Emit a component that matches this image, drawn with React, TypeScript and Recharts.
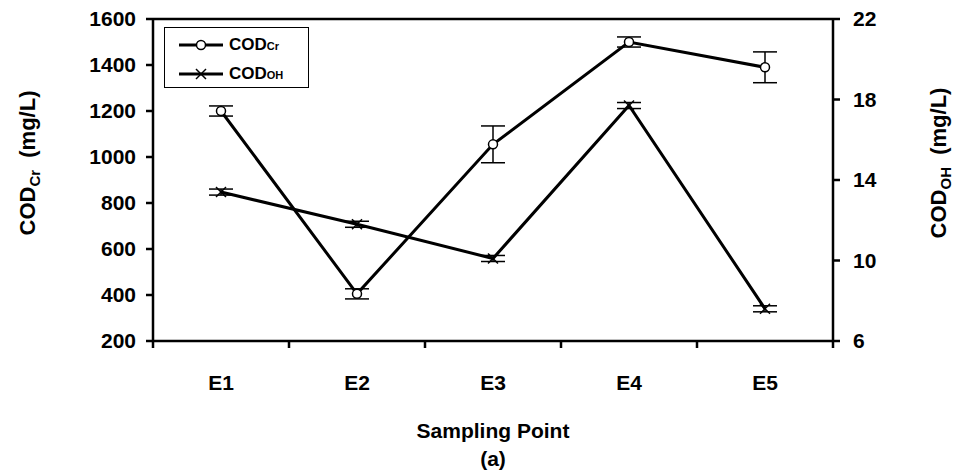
import React from "react";
import { LineChart, Line, XAxis, YAxis, ErrorBar, ReferenceLine, Legend } from "recharts";

const categories = ["E1", "E2", "E3", "E4", "E5"];
const codCr = [1200, 405, 1055, 1500, 1390];
const codCrErr = [22, 22, 80, 22, 67];
const codOh = [13.4, 11.8, 10.1, 17.7, 7.6];
const codOhErr = [0.15, 0.15, 0.15, 0.15, 0.15];
const leftTicks = [200, 400, 600, 800, 1000, 1200, 1400, 1600];
const rightTicks = [6, 10, 14, 18, 22];
// integer values carry the tick marks, half values carry the category labels
const xTicks = [0, 0.5, 1, 1.5, 2, 2.5, 3, 3.5, 4, 4.5, 5];

const data = categories.map((c, i) => ({
  name: c,
  x: i + 0.5,
  cr: codCr[i],
  crErr: codCrErr[i],
  oh: codOh[i],
  ohErr: codOhErr[i],
}));

const FONT = "'Liberation Sans', Arial, sans-serif";

const XTick = (props: any) => {
  const { x, y, payload } = props;
  const v = payload.value;
  if (Number.isInteger(v)) {
    return <line x1={x} x2={x} y1={y} y2={y + 7} stroke="#000" strokeWidth={2.5} />;
  }
  return (
    <text x={x} y={y + 49} textAnchor="middle" fontFamily={FONT} fontWeight="bold" fontSize={21} fill="#000">
      {categories[Math.floor(v)]}
    </text>
  );
};

const CircleDot = (props: any) => {
  const { cx, cy, index } = props;
  return <circle key={"c" + index} cx={cx} cy={cy} r={4.5} fill="#fff" stroke="#000" strokeWidth={1.5} />;
};

const CrossDot = (props: any) => {
  const { cx, cy, index } = props;
  const s = 5;
  return (
    <g key={"x" + index}>
      <line x1={cx - s} y1={cy - s} x2={cx + s} y2={cy + s} stroke="#000" strokeWidth={1.5} />
      <line x1={cx - s} y1={cy + s} x2={cx + s} y2={cy - s} stroke="#000" strokeWidth={1.5} />
    </g>
  );
};

const AxisTitle = ({ cx, sub }: { cx: number; sub: string }) => (
  <text
    transform={`rotate(-90, ${cx}, 163)`}
    x={cx}
    y={163}
    textAnchor="middle"
    dominantBaseline="central"
    fontFamily={FONT}
    fontWeight="bold"
    fontSize={22}
    fill="#000"
    style={{ whiteSpace: "pre" }}
  >
    <tspan>COD</tspan>
    <tspan fontSize={15} dy={7}>{sub}</tspan>
    <tspan dy={-7}>{"  (mg/L)"}</tspan>
  </text>
);

const XTitle = () => (
  <g>
    <text x={493} y={438} textAnchor="middle" fontFamily={FONT} fontWeight="bold" fontSize={21} fill="#000">
      Sampling Point
    </text>
    <text x={493} y={466} textAnchor="middle" fontFamily={FONT} fontWeight="bold" fontSize={21} fill="#000">
      (a)
    </text>
  </g>
);

const seriesNames = [
  { base: "COD", sub: "Cr", marker: "circle" },
  { base: "COD", sub: "OH", marker: "cross" },
];

const LegendBox = () => (
  <div
    style={{
      border: "1px solid #000",
      background: "#fff",
      width: 143,
      height: 59,
      fontFamily: FONT,
      fontWeight: "bold",
      fontSize: 17,
      color: "#000",
      boxSizing: "content-box",
    }}
  >
    {seriesNames.map((s, i) => (
      <div key={s.sub} style={{ display: "flex", alignItems: "center", height: 29, paddingTop: i === 0 ? 2 : 0 }}>
        <svg width={64} height={20} style={{ marginLeft: 10 }}>
          <line x1={4} x2={48} y1={10} y2={10} stroke="#000" strokeWidth={3} />
          {s.marker === "circle" ? (
            <circle cx={26} cy={10} r={4.5} fill="#fff" stroke="#000" strokeWidth={1.5} />
          ) : (
            <g>
              <line x1={21} y1={5} x2={31} y2={15} stroke="#000" strokeWidth={1.5} />
              <line x1={21} y1={15} x2={31} y2={5} stroke="#000" strokeWidth={1.5} />
            </g>
          )}
        </svg>
        <span style={{ marginLeft: -10 }}>
          {s.base}
          <span style={{ fontSize: 11 }}>{s.sub}</span>
        </span>
      </div>
    ))}
  </div>
);

export default function App() {
  return (
    <div style={{ position: "absolute", left: 0, top: 0, width: 955, height: 476, background: "#fff" }}>
      <LineChart width={955} height={476} data={data} margin={{ top: 19, right: 0, bottom: 0, left: 0 }}>
        <XAxis
          dataKey="x"
          type="number"
          domain={[0, 5]}
          ticks={xTicks}
          interval={0}
          height={135}
          tickLine={false}
          tickSize={0}
          tickMargin={0}
          tick={<XTick />}
          axisLine={{ stroke: "#000", strokeWidth: 2.5 }}
          label={{ content: <XTitle /> }}
        />
        <YAxis
          yAxisId="left"
          domain={[200, 1600]}
          ticks={leftTicks}
          interval={0}
          width={153}
          tickSize={7}
          tickMargin={10}
          axisLine={{ stroke: "#000", strokeWidth: 2.5 }}
          tickLine={{ stroke: "#000", strokeWidth: 2.5 }}
          tick={{ fill: "#000", fontFamily: FONT, fontWeight: "bold", fontSize: 21 }}
          label={{ content: <AxisTitle cx={27} sub="Cr" /> }}
        />
        <YAxis
          yAxisId="right"
          orientation="right"
          domain={[6, 22]}
          ticks={rightTicks}
          interval={0}
          width={122}
          tickSize={7}
          tickMargin={13}
          axisLine={{ stroke: "#000", strokeWidth: 2.5 }}
          tickLine={{ stroke: "#000", strokeWidth: 2.5 }}
          tick={{ fill: "#000", fontFamily: FONT, fontWeight: "bold", fontSize: 21 }}
          label={{ content: <AxisTitle cx={938} sub="OH" /> }}
        />
        <ReferenceLine yAxisId="left" y={1600} stroke="#000" strokeWidth={2.5} />
        <Line
          yAxisId="left"
          dataKey="cr"
          stroke="#000"
          strokeWidth={3}
          dot={<CircleDot />}
          isAnimationActive={false}
        >
          <ErrorBar dataKey="crErr" width={12} stroke="#000" strokeWidth={1.5} direction="y" />
        </Line>
        <Line
          yAxisId="right"
          dataKey="oh"
          stroke="#000"
          strokeWidth={3}
          dot={<CrossDot />}
          isAnimationActive={false}
        >
          <ErrorBar dataKey="ohErr" width={12} stroke="#000" strokeWidth={1.5} direction="y" />
        </Line>
        <Legend
          layout="vertical"
          align="center"
          verticalAlign="middle"
          content={<LegendBox />}
          wrapperStyle={{ left: 164, top: 27, width: 145, height: 61 }}
        />
      </LineChart>
    </div>
  );
}
